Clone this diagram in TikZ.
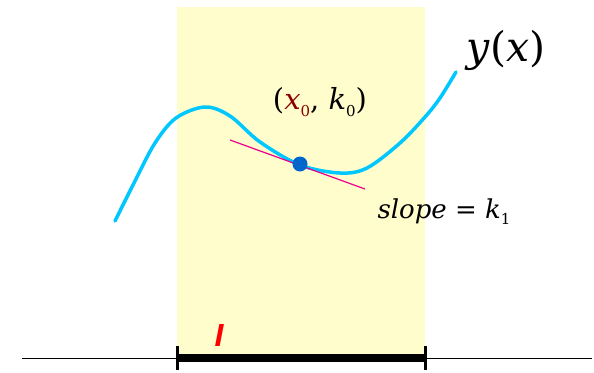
\documentclass[tikz,border=0pt]{standalone}
\usepackage{fontspec}
\setmainfont{DejaVu Serif}
\newfontfamily\labelsans{Liberation Sans}
\definecolor{boxyellow}{RGB}{255,253,204}
\definecolor{curvecyan}{RGB}{0,200,255}
\definecolor{dotblue}{RGB}{0,102,204}
\definecolor{darkred}{RGB}{140,0,0}
\newcommand{\subsc}[1]{\raisebox{-0.45ex}{\fontsize{15}{15}\selectfont\upshape #1}}
\begin{document}
\begin{tikzpicture}[x=1pt,y=-1pt,
  lbl/.style={inner sep=0pt}]
\useasboundingbox (0,0) rectangle (594,372);
\fill[boxyellow] (177,7) rectangle (425,358);
\coordinate (axL) at (22,358);
\coordinate (axR) at (592,358);
\draw[black, line width=0.8pt] (axL) -- (axR);
\coordinate (iL) at (177,358);
\coordinate (iR) at (425,358);
\draw[black, line width=7.5pt] (iL) -- (iR);
\draw[black, line width=3pt] (177,346) -- (177,370);
\draw[black, line width=3pt] (425,346) -- (425,370);
\node[inner sep=0pt, text=red, font=\labelsans\fontsize{32}{32}\selectfont\bfseries\itshape] (I) at (219,335) {I};
\draw[curvecyan, line width=3.5pt, line cap=round] plot[smooth, tension=0.55] coordinates {
 (115,221) (135,181) (155,143) (176,118) (205,107) (230,116) (260,142) (300,165) (340,173) (367,168) (400,143) (425,117) (440,98) (456,72)};
\coordinate (tA) at (230,140);
\coordinate (tB) at (365,189);
\draw[magenta, line width=1.2pt] (tA) -- (tB);
\fill[dotblue] (300,164) circle (7.5);
\node[lbl, font=\fontsize{29}{29}\selectfont\itshape] (pt) at (320,102) {\upshape(\itshape\textcolor{darkred}{x\subsc{0}}\upshape, \itshape k\subsc{0}\upshape)};
\node[lbl, font=\fontsize{41}{41}\selectfont\itshape] (yx) at (506,50) {y\upshape(\itshape x\upshape)};
\node[lbl, font=\fontsize{26}{26}\selectfont\itshape] (sl) at (444,212) {slope \upshape= \itshape k\subsc{1}};
\end{tikzpicture}
\end{document}
